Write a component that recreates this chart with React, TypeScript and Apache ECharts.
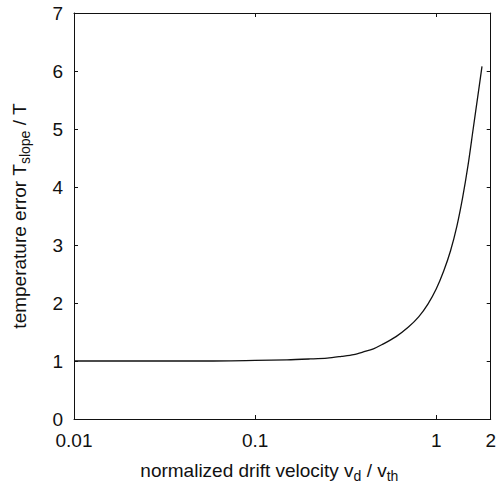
import React, { useEffect, useRef } from "react";
import * as echarts from "echarts";

const velocity = [0.01, 0.02, 0.05, 0.1, 0.15, 0.2, 0.25, 0.3, 0.35, 0.4, 0.45, 0.5, 0.6, 0.7, 0.8, 0.9, 1.0, 1.1, 1.2, 1.3, 1.4, 1.5, 1.6, 1.7, 1.79];
const tempError = [1.0, 1.0, 1.0, 1.01, 1.02, 1.035, 1.05, 1.08, 1.11, 1.16, 1.21, 1.28, 1.42, 1.58, 1.76, 1.98, 2.24, 2.55, 2.9, 3.32, 3.82, 4.38, 5.0, 5.58, 6.08];
const yTicks = [0, 1, 2, 3, 4, 5, 6, 7];

const FONT = "'Liberation Sans', Arial, Helvetica, sans-serif";
const INK = "#111";

export default function App() {
  const ref = useRef<HTMLDivElement>(null);
  useEffect(() => {
    if (!ref.current) return;
    const chart = echarts.init(ref.current, null, { renderer: "svg" });
    const data = velocity.map((v, i) => [v, tempError[i]]);
    const fmtX = (v: number) => String(+Number(v).toPrecision(3));
    const axisCommon = {
      axisLine: { show: true, onZero: false, lineStyle: { color: INK, width: 1 } },
      axisTick: { show: true, inside: true, length: 4, lineStyle: { color: INK, width: 1 } },
      splitLine: { show: false },
    };
    const rich = {
      m: { fontFamily: FONT, fontSize: 19, color: INK, lineHeight: 26, verticalAlign: "middle" },
      s: { fontFamily: FONT, fontSize: 14, color: INK, lineHeight: 26, verticalAlign: "bottom", padding: [10, 0, 0, 0] },
    };
    chart.setOption({
      animation: false,
      backgroundColor: "#fff",
      grid: { left: 68, right: 7, top: 13, bottom: 60, containLabel: false },
      xAxis: [
        {
          type: "log",
          logBase: 10,
          min: 0.01,
          max: 2,
          ...axisCommon,
          axisLabel: {
            color: INK,
            fontFamily: FONT,
            fontSize: 19,
            margin: 12,
            formatter: fmtX,
            showMinLabel: true,
            showMaxLabel: true,
          },
          name: "{m|normalized drift velocity v}{s|d}{m| / v}{s|th}",
          nameLocation: "middle",
          nameGap: 38,
          nameTextStyle: { padding: [0, 26, 0, 0], rich },
        },
        {
          type: "log",
          logBase: 10,
          min: 0.01,
          max: 2,
          position: "top",
          ...axisCommon,
          axisLabel: { show: false },
        },
      ],
      yAxis: [
        {
          type: "value",
          min: 0,
          max: 7,
          interval: 1,
          ...axisCommon,
          axisLabel: {
            color: INK,
            fontFamily: FONT,
            fontSize: 19,
            margin: 11,
            formatter: (v: number) => (yTicks.includes(v) ? String(v) : ""),
          },
          name: "{m|temperature error T}{s|slope}{m| / T}",
          nameLocation: "middle",
          nameGap: 42,
          nameRotate: 90,
          nameTextStyle: { rich },
        },
        {
          type: "value",
          min: 0,
          max: 7,
          interval: 1,
          position: "right",
          ...axisCommon,
          axisLabel: { show: false },
        },
      ],
      series: [
        {
          type: "line",
          data,
          xAxisIndex: 0,
          yAxisIndex: 0,
          smooth: 0.3,
          showSymbol: false,
          symbol: "none",
          lineStyle: { color: INK, width: 1.3 },
        },
      ],
    });
    return () => chart.dispose();
  }, []);
  return <div ref={ref} style={{ width: 499, height: 488, position: "fixed", left: 0, top: 0 }} />;
}
